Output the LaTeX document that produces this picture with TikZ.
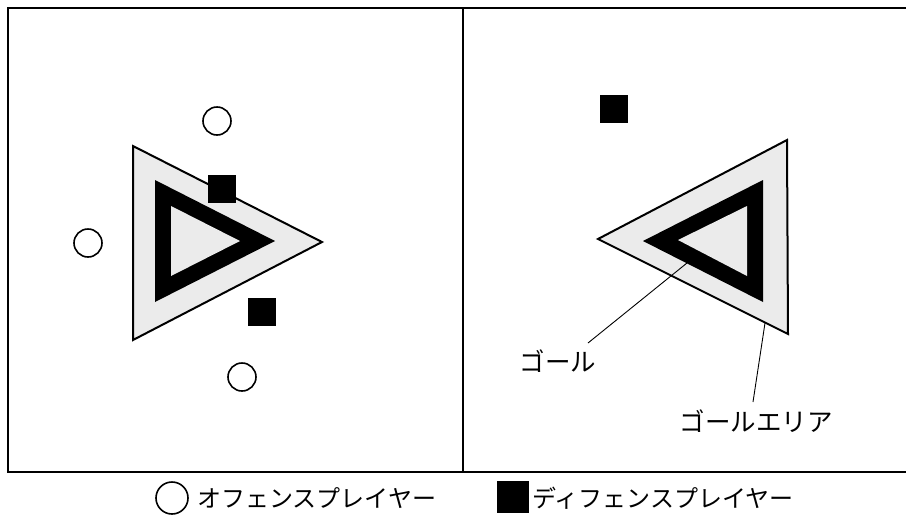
\documentclass[tikz,border=0pt]{standalone}
\usepackage{fontspec}
\setmainfont{Noto Sans CJK JP}
\begin{document}
\begin{tikzpicture}[x=1pt,y=-1pt,
  area/.style={fill=black!8,draw=black,line width=2pt,line join=miter},
  goalring/.style={fill=black},
  goalin/.style={fill=black!8},
  offense/.style={circle,draw=black,line width=1.6pt,fill=white,minimum size=28pt,inner sep=0pt},
  defense/.style={rectangle,fill=black,minimum size=28pt,inner sep=0pt},
  lbl/.style={font=\fontsize{25.5pt}{28pt}\selectfont,inner sep=0pt},
  leg/.style={font=\fontsize{24pt}{27pt}\selectfont,inner sep=0pt},
  leader/.style={line width=0.9pt}]
\useasboundingbox (0,0) rectangle (906,520);
\fill[white] (0,0) rectangle (906,520);
% field frame (right edge runs off the picture)
\draw[line width=2pt] (912,8) -- (8,8) -- (8,472) -- (912,472);
\draw[line width=2pt] (463,8) -- (463,472);
% left panel
\draw[area] (133,146) -- (133,340) -- (322,242) -- cycle;
\fill[goalring] (155,180) -- (155,302) -- (275,241) -- cycle;
\fill[goalin] (171,206) -- (171,276) -- (240,241) -- cycle;
\node[offense] (o1) at (217,121) {};
\node[offense] (o2) at (88,243) {};
\node[offense] (o3) at (242,377) {};
\node[defense] (d1) at (222,189) {};
\node[defense] (d2) at (262,312) {};
% right panel
\draw[area] (598,239) -- (787,140) -- (788,334) -- cycle;
\fill[goalring] (643,241) -- (763,180) -- (763,302) -- cycle;
\fill[goalin] (678,240) -- (747,206) -- (747,276) -- cycle;
\node[defense] (d3) at (614,109) {};
\coordinate (goalpt) at (687,263);
\coordinate (areapt) at (765,323);
\node[lbl,anchor=center] (goal) at (558,361) {ゴール};
\node[lbl,anchor=center] (area) at (756,421) {ゴールエリア};
\draw[leader] (588,343) -- (goalpt);
\draw[leader] (753,402) -- (areapt);
% legend
\node[offense,minimum size=32pt] (lo) at (172,498) {};
\node[leg,anchor=west] (lot) at (197,498) {オフェンスプレイヤー};
\node[defense,minimum width=32pt,minimum height=32pt] (ld) at (513,497) {};
\node[leg,anchor=west] (ldt) at (532,498) {ディフェンスプレイヤー};
\end{tikzpicture}
\end{document}
